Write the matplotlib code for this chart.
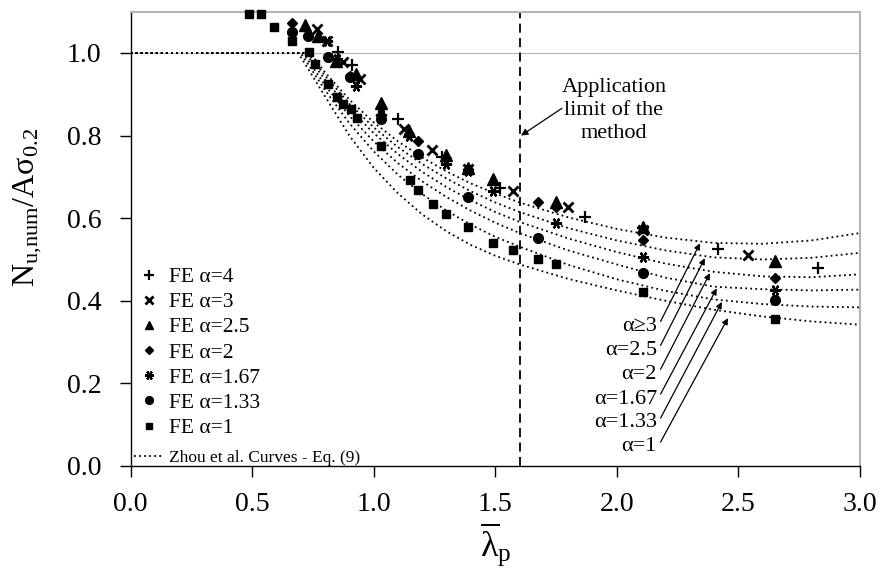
import matplotlib
matplotlib.use('Agg')
import matplotlib.pyplot as plt
from matplotlib.lines import Line2D

plt.rcParams['font.family'] = ['Liberation Serif', 'DejaVu Serif']
plt.rcParams['mathtext.fontset'] = 'custom'
plt.rcParams['mathtext.rm'] = 'Liberation Serif'
plt.rcParams['mathtext.it'] = 'Liberation Serif:italic'

# FE results: slenderness and normalised ultimate load, one pair of lists per alpha
fe_a4_x = [0.855, 0.909, 1.099, 1.280, 1.519, 1.869, 2.109, 2.417, 2.828]
fe_a4_y = [1.002, 0.970, 0.841, 0.748, 0.674, 0.603, 0.575, 0.526, 0.480]
fe_a3_x = [0.766, 0.807, 0.875, 0.944, 1.030, 1.125, 1.241, 1.389, 1.572, 1.800, 2.109, 2.540]
fe_a3_y = [1.058, 1.030, 0.978, 0.938, 0.860, 0.817, 0.764, 0.720, 0.667, 0.627, 0.572, 0.510]
fe_a25_x = [0.718, 0.772, 0.845, 0.927, 1.030, 1.146, 1.297, 1.389, 1.492, 1.750, 2.109, 2.650]
fe_a25_y = [1.069, 1.042, 0.980, 0.950, 0.880, 0.810, 0.752, 0.722, 0.694, 0.640, 0.578, 0.496]
fe_a2_x = [0.663, 0.903, 1.030, 1.146, 1.184, 1.297, 1.389, 1.677, 1.750, 2.109, 2.650]
fe_a2_y = [1.072, 0.945, 0.870, 0.805, 0.788, 0.745, 0.718, 0.639, 0.628, 0.547, 0.455]
fe_a167_x = [0.807, 0.848, 0.926, 1.030, 1.146, 1.297, 1.389, 1.492, 1.750, 2.109, 2.650]
fe_a167_y = [1.030, 0.986, 0.919, 0.850, 0.800, 0.732, 0.715, 0.666, 0.588, 0.506, 0.427]
fe_a133_x = [0.663, 0.731, 0.811, 0.903, 1.030, 1.184, 1.389, 1.677, 2.109, 2.650]
fe_a133_y = [1.050, 1.042, 0.990, 0.941, 0.841, 0.755, 0.651, 0.553, 0.468, 0.401]
fe_a1_x = [0.488, 0.537, 0.590, 0.663, 0.734, 0.759, 0.811, 0.848, 0.875, 0.905, 0.930,
           1.030, 1.149, 1.184, 1.243, 1.297, 1.389, 1.492, 1.572, 1.677, 1.750, 2.109, 2.650]
fe_a1_y = [1.094, 1.094, 1.062, 1.030, 1.002, 0.974, 0.925, 0.893, 0.877, 0.865, 0.843,
           0.774, 0.692, 0.669, 0.635, 0.611, 0.579, 0.540, 0.524, 0.501, 0.488, 0.422, 0.357]

# Zhou et al. curves (plateau at 1.0 up to zhou_start)
zhou_lam = [0.8, 0.9, 1.0, 1.1, 1.2, 1.3, 1.4, 1.5, 1.6, 1.8, 2.0, 2.2, 2.4, 2.6, 2.8, 3.0]
zhou_a3 = [0.953, 0.887, 0.832, 0.786, 0.747, 0.713, 0.684, 0.660, 0.638, 0.602, 0.574, 0.553, 0.540, 0.538, 0.546, 0.564]
zhou_a25 = [0.945, 0.877, 0.820, 0.772, 0.731, 0.696, 0.665, 0.638, 0.615, 0.576, 0.546, 0.522, 0.505, 0.500, 0.504, 0.516]
zhou_a2 = [0.935, 0.865, 0.806, 0.755, 0.712, 0.675, 0.643, 0.615, 0.591, 0.551, 0.518, 0.490, 0.470, 0.459, 0.457, 0.464]
zhou_a167 = [0.922, 0.848, 0.786, 0.733, 0.689, 0.651, 0.618, 0.589, 0.564, 0.522, 0.488, 0.456, 0.434, 0.428, 0.425, 0.427]
zhou_a133 = [0.910, 0.830, 0.762, 0.705, 0.658, 0.618, 0.584, 0.555, 0.531, 0.487, 0.452, 0.424, 0.403, 0.392, 0.386, 0.384]
zhou_a1 = [0.895, 0.800, 0.722, 0.660, 0.609, 0.568, 0.535, 0.509, 0.488, 0.453, 0.425, 0.400, 0.378, 0.362, 0.350, 0.342]
zhou_start = [0.74, 0.73, 0.72, 0.71, 0.70, 0.69]

curve_labels = ['α≥3', 'α=2.5', 'α=2', 'α=1.67', 'α=1.33', 'α=1']
arrow_tips = [(2.342, 0.539), (2.362, 0.503), (2.383, 0.467), (2.411, 0.430), (2.432, 0.397), (2.457, 0.358)]
label_y = [0.338, 0.280, 0.222, 0.162, 0.104, 0.046]

app_limit = 1.6

fig = plt.figure(figsize=(8.82, 5.71), dpi=100)
ax = fig.add_axes([0.148, 0.184, 0.827, 0.7955])

# reference line at 1.0
ax.axhline(1.0, color='#b4b4b4', lw=0.8, zorder=1)

zhou_style = dict(color='black', lw=1.3, linestyle=(0, (1, 1.8)))
zhou_sets = [zhou_a3, zhou_a25, zhou_a2, zhou_a167, zhou_a133, zhou_a1]
for i, vals in enumerate(zhou_sets):
    xs = [0.0, zhou_start[i]] + zhou_lam
    ys = [1.0, 1.0] + vals
    ax.plot(xs, ys, zorder=2, **zhou_style)

series = [
    (fe_a4_x, fe_a4_y, '+', 9, 1.6, 'FE α=4'),
    (fe_a3_x, fe_a3_y, 'x', 7, 2.0, 'FE α=3'),
    (fe_a25_x, fe_a25_y, '^', 8, 1.0, 'FE α=2.5'),
    (fe_a2_x, fe_a2_y, 'D', 5.5, 1.0, 'FE α=2'),
    (fe_a167_x, fe_a167_y, (6, 2, 90), 8, 1.6, 'FE α=1.67'),
    (fe_a133_x, fe_a133_y, 'o', 7, 1.0, 'FE α=1.33'),
    (fe_a1_x, fe_a1_y, 's', 6, 1.0, 'FE α=1'),
]
handles = []
for xs, ys, mk, ms, mew, lab in series:
    h, = ax.plot(xs, ys, linestyle='none', marker=mk, ms=ms, mew=mew,
                 color='black', label=lab, clip_on=False, zorder=3)
    handles.append(h)

leg = ax.legend(handles, [s[5] for s in series],
                loc='upper left', bbox_to_anchor=(-0.005, 0.4567), frameon=False,
                fontsize=15.5, handlelength=1.25, handletextpad=0.3,
                labelspacing=0.236, borderaxespad=0, markerscale=0.8)
ax.add_artist(leg)
zhou_handle = Line2D([], [], **zhou_style)
ax.legend([zhou_handle], ['Zhou et al. Curves - Eq. (9)'], loc='center left',
          bbox_to_anchor=(-0.005, 0.0176), frameon=False, fontsize=12.5,
          handlelength=1.7, handletextpad=0.3, borderaxespad=0)

# application limit
ax.axvline(app_limit, color='black', lw=1.3, dashes=(5, 3), zorder=2)
ax.annotate('', xy=(1.606, 0.80), xytext=(1.774, 0.866),
            arrowprops=dict(arrowstyle='-|>', color='black', lw=0.9,
                            mutation_scale=10, shrinkA=0, shrinkB=0))
ax.text(1.988, 0.861, 'Application\nlimit of the\nmethod', ha='center', va='center',
        fontsize=16, linespacing=1.3)

# curve labels with arrows
for lab, tip, ly in zip(curve_labels, arrow_tips, label_y):
    ax.text(2.165, ly, lab, ha='right', va='center', fontsize=16)
    ax.annotate('', xy=tip, xytext=(2.18, ly + 0.012),
                arrowprops=dict(arrowstyle='-|>', color='black', lw=0.9,
                                mutation_scale=9, shrinkA=0, shrinkB=0))

ax.set_xlim(0, 3.0)
ax.set_ylim(0, 1.1)
ax.set_xticks([0.0, 0.5, 1.0, 1.5, 2.0, 2.5, 3.0])
ax.set_yticks([0.0, 0.2, 0.4, 0.6, 0.8, 1.0])
ax.set_xticklabels(['0.0', '0.5', '1.0', '1.5', '2.0', '2.5', '3.0'])
ax.set_yticklabels(['0.0', '0.2', '0.4', '0.6', '0.8', '1.0'])
ax.tick_params(axis='both', direction='out', length=8, width=1, labelsize=20)
ax.tick_params(axis='y', pad=13)
ax.tick_params(axis='x', pad=11)

for side in ['top', 'right']:
    ax.spines[side].set_color('#b4b4b4')
    ax.spines[side].set_linewidth(1.5)
for side in ['left', 'bottom']:
    ax.spines[side].set_linewidth(1.0)

ax.set_ylabel(r'$\mathrm{N_{u{,}num}/A\sigma_{0.2}}$', fontsize=23)
ax.yaxis.set_label_coords(-0.118, 0.57)
ax.set_xlabel(r'$\overline{\mathrm{\lambda}}_{\mathrm{p}}$', fontsize=26, labelpad=2)

fig.savefig('out.png', dpi=100)
